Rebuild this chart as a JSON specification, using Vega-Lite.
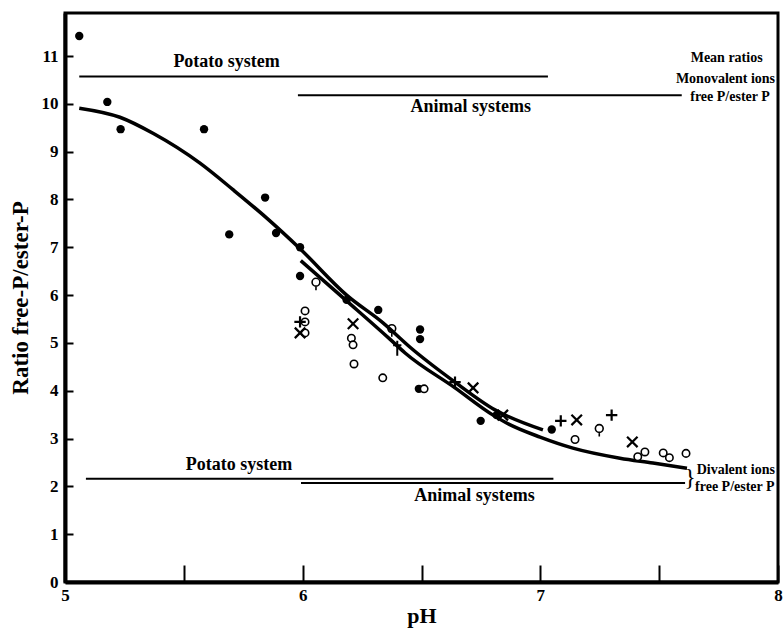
{
  "$schema": "https://vega.github.io/schema/vega-lite/v6.json",
  "width": 713,
  "height": 569,
  "autosize": {"type": "none"},
  "padding": {"left": 65, "top": 13, "right": 5, "bottom": 46},
  "background": "white",
  "config": {
    "view": {"stroke": "black", "strokeWidth": 3},
    "font": "Liberation Serif",
    "axis": {"grid": false, "domainColor": "black", "tickColor": "black", "labelColor": "black", "titleColor": "black", "labelFont": "Liberation Serif", "titleFont": "Liberation Serif"}
  },
  "datasets": {
    "curves": [
      {"curve": "A", "pH": 5.060, "ratio": 9.91},
      {"curve": "A", "pH": 5.231, "ratio": 9.72},
      {"curve": "A", "pH": 5.372, "ratio": 9.38},
      {"curve": "A", "pH": 5.568, "ratio": 8.76},
      {"curve": "A", "pH": 5.708, "ratio": 8.20},
      {"curve": "A", "pH": 5.849, "ratio": 7.61},
      {"curve": "A", "pH": 5.989, "ratio": 6.97},
      {"curve": "A", "pH": 6.185, "ratio": 6.00},
      {"curve": "A", "pH": 6.338, "ratio": 5.42},
      {"curve": "A", "pH": 6.452, "ratio": 4.91},
      {"curve": "A", "pH": 6.641, "ratio": 4.18},
      {"curve": "A", "pH": 6.809, "ratio": 3.60},
      {"curve": "A", "pH": 7.011, "ratio": 3.18},
      {"curve": "B", "pH": 5.992, "ratio": 6.72},
      {"curve": "B", "pH": 6.185, "ratio": 5.88},
      {"curve": "B", "pH": 6.367, "ratio": 5.08},
      {"curve": "B", "pH": 6.431, "ratio": 4.79},
      {"curve": "B", "pH": 6.641, "ratio": 4.06},
      {"curve": "B", "pH": 6.801, "ratio": 3.49},
      {"curve": "B", "pH": 6.860, "ratio": 3.32},
      {"curve": "B", "pH": 6.999, "ratio": 3.03},
      {"curve": "B", "pH": 7.137, "ratio": 2.80},
      {"curve": "B", "pH": 7.335, "ratio": 2.59},
      {"curve": "B", "pH": 7.474, "ratio": 2.49},
      {"curve": "B", "pH": 7.617, "ratio": 2.38}
    ],
    "hlines": [
      {"system": "Potato monovalent", "pH": 5.060, "pH2": 7.032, "ratio": 10.57},
      {"system": "Animal monovalent", "pH": 5.980, "pH2": 7.595, "ratio": 10.18},
      {"system": "Potato divalent", "pH": 5.088, "pH2": 7.055, "ratio": 2.16},
      {"system": "Animal divalent", "pH": 5.993, "pH2": 7.609, "ratio": 2.07}
    ],
    "pts": [
      {"sym": "filled", "pH": 5.060, "ratio": 11.42},
      {"sym": "filled", "pH": 5.178, "ratio": 10.04},
      {"sym": "filled", "pH": 5.234, "ratio": 9.47},
      {"sym": "filled", "pH": 5.585, "ratio": 9.47},
      {"sym": "filled", "pH": 5.691, "ratio": 7.27},
      {"sym": "filled", "pH": 5.842, "ratio": 8.04},
      {"sym": "filled", "pH": 5.888, "ratio": 7.30},
      {"sym": "filled", "pH": 5.989, "ratio": 7.00},
      {"sym": "filled", "pH": 5.989, "ratio": 6.40},
      {"sym": "filled", "pH": 6.185, "ratio": 5.90},
      {"sym": "filled", "pH": 6.318, "ratio": 5.69},
      {"sym": "filled", "pH": 6.494, "ratio": 5.28},
      {"sym": "filled", "pH": 6.494, "ratio": 5.08},
      {"sym": "filled", "pH": 6.489, "ratio": 4.04},
      {"sym": "filled", "pH": 6.749, "ratio": 3.37},
      {"sym": "filled", "pH": 6.816, "ratio": 3.49},
      {"sym": "filled", "pH": 7.048, "ratio": 3.19},
      {"sym": "open", "pH": 6.010, "ratio": 5.67},
      {"sym": "open", "pH": 6.010, "ratio": 5.44},
      {"sym": "open", "pH": 6.010, "ratio": 5.21},
      {"sym": "open", "pH": 6.205, "ratio": 5.10},
      {"sym": "open", "pH": 6.212, "ratio": 4.96},
      {"sym": "open", "pH": 6.216, "ratio": 4.56},
      {"sym": "open", "pH": 6.337, "ratio": 4.27},
      {"sym": "open", "pH": 6.511, "ratio": 4.04},
      {"sym": "open", "pH": 7.146, "ratio": 2.98},
      {"sym": "open", "pH": 7.410, "ratio": 2.62},
      {"sym": "open", "pH": 7.440, "ratio": 2.72},
      {"sym": "open", "pH": 7.517, "ratio": 2.70},
      {"sym": "open", "pH": 7.543, "ratio": 2.60},
      {"sym": "open", "pH": 7.613, "ratio": 2.69},
      {"sym": "tail", "pH": 6.056, "ratio": 6.27},
      {"sym": "tail", "pH": 6.375, "ratio": 5.30},
      {"sym": "tail", "pH": 7.248, "ratio": 3.21},
      {"sym": "x", "pH": 5.989, "ratio": 5.21},
      {"sym": "x", "pH": 6.212, "ratio": 5.40},
      {"sym": "x", "pH": 6.717, "ratio": 4.06},
      {"sym": "x", "pH": 6.842, "ratio": 3.49},
      {"sym": "x", "pH": 7.153, "ratio": 3.39},
      {"sym": "x", "pH": 7.387, "ratio": 2.93},
      {"sym": "plus", "pH": 5.989, "ratio": 5.44},
      {"sym": "plus", "pH": 6.641, "ratio": 4.18},
      {"sym": "plus", "pH": 7.086, "ratio": 3.37},
      {"sym": "plus", "pH": 7.300, "ratio": 3.49},
      {"sym": "dagger", "pH": 6.398, "ratio": 4.89}
    ],
    "systemLabels": [
      {"label": "Potato system", "pH": 5.680, "ratio": 10.87},
      {"label": "Animal systems", "pH": 6.707, "ratio": 9.93},
      {"label": "Potato system", "pH": 5.732, "ratio": 2.45},
      {"label": "Animal systems", "pH": 6.723, "ratio": 1.80}
    ],
    "meanLabels": [
      {"label": "Mean ratios", "pH": 7.784, "ratio": 10.96},
      {"label": "Monovalent ions", "pH": 7.779, "ratio": 10.52},
      {"label": "free P/ester P", "pH": 7.798, "ratio": 10.14}
    ],
    "divLabels": [
      {"label": "Divalent ions", "pH": 7.658, "ratio": 2.34},
      {"label": "free P/ester P", "pH": 7.651, "ratio": 1.99}
    ],
    "brace": [
      {"label": "}", "pH": 7.630, "ratio": 2.17}
    ]
  },
  "encoding": {
    "x": {
      "field": "pH", "type": "quantitative",
      "scale": {"domain": [5, 8], "nice": false, "zero": false},
      "axis": {
        "values": [5, 5.5, 6, 6.5, 7, 7.5, 8],
        "labelExpr": "datum.value % 1 === 0 ? format(datum.value, 'd') : ''",
        "labelFlush": false,
        "tickSize": -17, "tickWidth": 2,
        "domainWidth": 4,
        "labelFontSize": 17, "labelFontWeight": "bold", "labelPadding": 22,
        "title": "pH", "titleFontSize": 22, "titleFontWeight": "bold", "titlePadding": 2
      }
    },
    "y": {
      "field": "ratio", "type": "quantitative",
      "scale": {"domain": [0, 11.9], "nice": false, "zero": true},
      "axis": {
        "values": [0, 1, 2, 3, 4, 5, 6, 7, 8, 9, 10, 11],
        "format": "d",
        "tickSize": -8, "tickWidth": 2,
        "domainWidth": 4,
        "labelFontSize": 17, "labelFontWeight": "bold", "labelPadding": 15,
        "title": "Ratio free-P/ester-P", "titleFontSize": 23, "titleFontWeight": "bold", "titlePadding": 9
      }
    }
  },
  "layer": [
    {
      "data": {"name": "hlines"},
      "mark": {"type": "rule", "color": "black", "strokeWidth": 2},
      "encoding": {"x2": {"field": "pH2"}}
    },
    {
      "data": {"name": "curves"},
      "mark": {"type": "line", "color": "black", "strokeWidth": 3.5, "interpolate": "monotone"},
      "encoding": {"detail": {"field": "curve"}}
    },
    {
      "data": {"name": "pts"},
      "transform": [{"filter": "datum.sym === 'filled'"}],
      "mark": {"type": "point", "shape": "circle", "filled": true, "color": "black", "opacity": 1, "size": 70}
    },
    {
      "data": {"name": "pts"},
      "transform": [{"filter": "datum.sym === 'open'"}],
      "mark": {"type": "point", "shape": "circle", "filled": false, "fill": "white", "color": "black", "opacity": 1, "size": 55, "strokeWidth": 1.6}
    },
    {
      "data": {"name": "pts"},
      "transform": [{"filter": "datum.sym === 'tail'"}],
      "mark": {"type": "point", "shape": "M-0.65,0A0.65,0.65 0 1,1 0.65,0A0.65,0.65 0 1,1 -0.65,0M0,0.65L0,1.35", "filled": false, "color": "black", "opacity": 1, "size": 144, "strokeWidth": 1.6}
    },
    {
      "data": {"name": "pts"},
      "transform": [{"filter": "datum.sym === 'x'"}],
      "mark": {"type": "point", "shape": "M-1,-1L1,1M-1,1L1,-1", "filled": false, "color": "black", "opacity": 1, "size": 110, "strokeWidth": 2.2}
    },
    {
      "data": {"name": "pts"},
      "transform": [{"filter": "datum.sym === 'plus'"}],
      "mark": {"type": "point", "shape": "M-1,0L1,0M0,-1L0,1", "filled": false, "color": "black", "opacity": 1, "size": 130, "strokeWidth": 2.2}
    },
    {
      "data": {"name": "pts"},
      "transform": [{"filter": "datum.sym === 'dagger'"}],
      "mark": {"type": "point", "shape": "M0,-1L0,1M-0.55,-0.4L0.55,-0.4", "filled": false, "color": "black", "opacity": 1, "size": 225, "strokeWidth": 2}
    },
    {
      "data": {"name": "systemLabels"},
      "mark": {"type": "text", "font": "Liberation Serif", "fontWeight": "bold", "fontSize": 18, "align": "center", "baseline": "middle", "color": "black"},
      "encoding": {"text": {"field": "label"}}
    },
    {
      "data": {"name": "meanLabels"},
      "mark": {"type": "text", "font": "Liberation Serif", "fontWeight": "bold", "fontSize": 14, "align": "center", "baseline": "middle", "color": "black"},
      "encoding": {"text": {"field": "label"}}
    },
    {
      "data": {"name": "divLabels"},
      "mark": {"type": "text", "font": "Liberation Serif", "fontWeight": "bold", "fontSize": 14, "align": "left", "baseline": "middle", "color": "black"},
      "encoding": {"text": {"field": "label"}}
    },
    {
      "data": {"name": "brace"},
      "mark": {"type": "text", "font": "Liberation Serif", "fontSize": 24, "align": "center", "baseline": "middle", "color": "black"},
      "encoding": {"text": {"field": "label"}}
    }
  ]
}
